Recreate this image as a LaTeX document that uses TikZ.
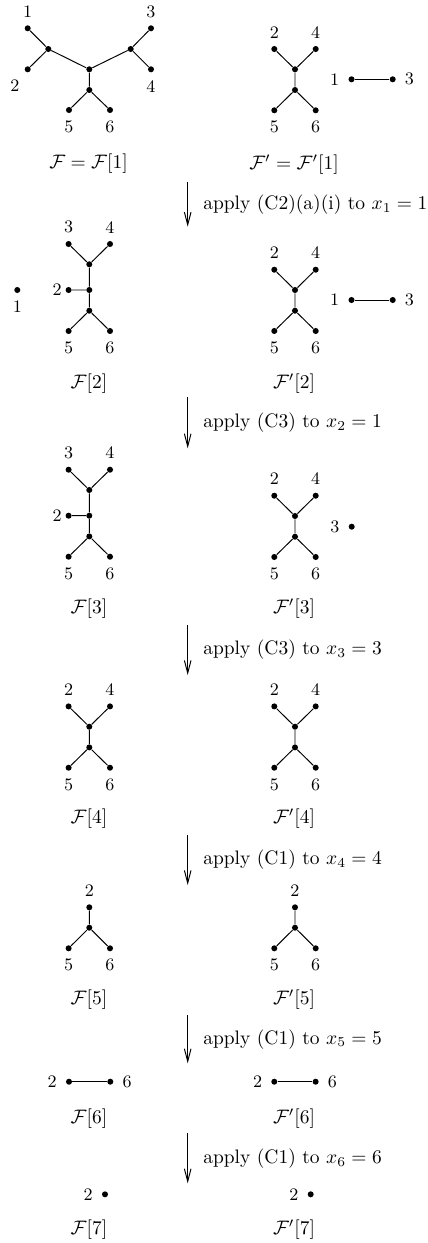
\documentclass[tikz,border=0pt]{standalone}
\usepackage{amsmath}
\usetikzlibrary{arrows.meta, positioning}

\begin{document}
\begin{tikzpicture}[
        x=0.513pt, y=-0.513pt,
        vtx/.style={circle, fill, inner sep=0pt, minimum size=3.1pt},
        every label/.style={font=\small},
        label distance=0.3pt,
        far/.style={label distance=1pt},
        edge/.style={line width=0.5pt},
        stepArrow/.style={-{Straight Barb[length=6.5pt, width=3.4pt]}, line width=0.5pt}
    ]
        \useasboundingbox (0,0) rectangle (428,1243);

        % F[1]
        \node[vtx] (t1c) at (89.3,69.3) {};
        \node[vtx] (t1d) at (89.3,90) {};
        \node[vtx] (t1a) at (48.3,49) {};
        \node[vtx] (t1b) at (130.7,49) {};
        \node[vtx, label=above:1] (t1l1) at (27.7,28.3) {};
        \node[vtx, label=250:2] (t1l2) at (27.7,69.3) {};
        \node[vtx, label=above:3] (t1l3) at (151,28.3) {};
        \node[vtx, label=below:4] (t1l4) at (151,69.3) {};
        \node[vtx, label=below:5] (t1l5) at (69,110) {};
        \node[vtx, label=below:6] (t1l6) at (110,110) {};
        \draw[edge] (t1l1) -- (t1a) -- (t1l2) (t1a) -- (t1c) -- (t1b) -- (t1l3)
            (t1b) -- (t1l4) (t1c) -- (t1d) -- (t1l5) (t1d) -- (t1l6);

        % trees with leaves 2,4 / 5,6
        \foreach \n/\x/\y in {h1/295/69.3, h2/295/290, h3/295/516, h4/89.3/726.7, h5/295/726.7} {
            \node[vtx] (\n-u) at (\x,\y) {};
            \node[vtx] (\n-d) at (\x,\y+20.7) {};
            \node[vtx, label=above:2] (\n-2) at (\x-20.7,\y-20.3) {};
            \node[vtx, label=above:4] (\n-4) at (\x+20.7,\y-20.3) {};
            \node[vtx, label=below:5] (\n-5) at (\x-20.7,\y+41) {};
            \node[vtx, label=below:6] (\n-6) at (\x+20.7,\y+41) {};
            \draw[edge] (\n-2) -- (\n-u) -- (\n-4) (\n-u) -- (\n-d) -- (\n-5) (\n-d) -- (\n-6);
        }

        % trees with leaf 2 hanging from the middle
        \foreach \n/\y in {c2/264.3, c3/490} {
            \node[vtx] (\n-u) at (89.3,\y) {};
            \node[vtx] (\n-m) at (89.3,\y+25.7) {};
            \node[vtx] (\n-d) at (89.3,\y+46.4) {};
            \node[vtx, label=above:3] (\n-3) at (68.6,\y-20.3) {};
            \node[vtx, label=above:4] (\n-4) at (110,\y-20.3) {};
            \node[vtx, label={[label distance=-1.7pt]left:2}] (\n-2) at (68.6,\y+25.7) {};
            \node[vtx, label=below:5] (\n-5) at (68.6,\y+66.7) {};
            \node[vtx, label=below:6] (\n-6) at (110,\y+66.7) {};
            \draw[edge] (\n-3) -- (\n-u) -- (\n-4) (\n-u) -- (\n-m) -- (\n-d) -- (\n-5)
                (\n-d) -- (\n-6) (\n-m) -- (\n-2);
        }

        % trees with leaves 2 / 5,6
        \foreach \n/\x in {d1/89.3, d2/295} {
            \node[vtx, label=above:2] (\n-2) at (\x,907.3) {};
            \node[vtx] (\n-u) at (\x,927.7) {};
            \node[vtx, label=below:5] (\n-5) at (\x-20.7,948.3) {};
            \node[vtx, label=below:6] (\n-6) at (\x+20.7,948.3) {};
            \draw[edge] (\n-2) -- (\n-u) -- (\n-5) (\n-u) -- (\n-6);
        }

        % single edges
        \foreach \n/\y in {e1/79.3, e2/300} {
            \node[vtx, label={[far]left:1}] (\n-1) at (351.5,\y) {};
            \node[vtx, label={[far]right:3}] (\n-3) at (392.7,\y) {};
            \draw[edge] (\n-1) -- (\n-3);
        }
        \foreach \n/\x in {f1/69, f2/274.3} {
            \node[vtx, label={[far]left:2}] (\n-2) at (\x,1081.7) {};
            \node[vtx, label={[far]right:6}] (\n-6) at (\x+41.3,1081.7) {};
            \draw[edge] (\n-2) -- (\n-6);
        }

        % isolated vertices
        \node[vtx, label=below:1] (iso1) at (17.3,290) {};
        \node[vtx, label={[far]left:3}] (iso3) at (351.7,526.7) {};
        \node[vtx, label={[far]left:2}] (iso2a) at (105,1194.3) {};
        \node[vtx, label={[far]left:2}] (iso2b) at (310.7,1194.3) {};

        % captions
        \node (capF1) at (88.5,163.3) {$\mathcal{F} = \mathcal{F}[1]$};
        \node (capG1) at (294,164.3) {$\mathcal{F}' = \mathcal{F}'[1]$};
        \foreach \k/\y in {2/383.3, 3/608.3, 4/818.3, 5/1000, 6/1118.3, 7/1230} {
            \node (capF\k) at (89,\y) {$\mathcal{F}[\k]$};
            \node (capG\k) at (294,\y) {$\mathcal{F}'[\k]$};
        }

        % steps
        \foreach \i/\cond/\v/\ys/\ye in {1/(C2)(a)(i)/1/181.7/226.7, 2/(C3)/1/397/448.3,
                3/(C3)/3/625/675, 4/(C1)/4/835/885, 5/(C1)/5/1015/1063.3, 6/(C1)/6/1133.3/1183.3} {
            \coordinate (s\i) at (187.7,\ys);
            \coordinate (e\i) at (187.7,\ye);
            \draw[stepArrow] (s\i) -- node[right=4.4pt] {apply \cond\ to $x_{\i} = \v$} (e\i);
        }
    \end{tikzpicture}
\end{document}
